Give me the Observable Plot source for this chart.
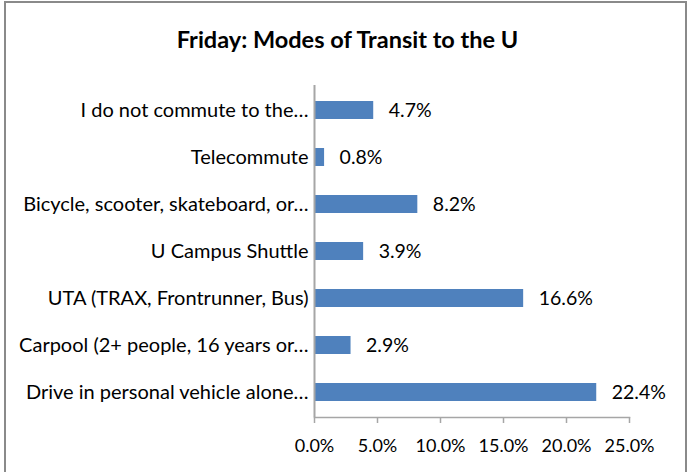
<!DOCTYPE html>
<html>
<head>
<meta charset="utf-8">
<script src="https://cdn.jsdelivr.net/npm/d3@7"></script>
<script src="https://cdn.jsdelivr.net/npm/@observablehq/plot@0.6"></script>
<style>
  html, body { margin: 0; padding: 0; background: #fff; }
  body { width: 695px; height: 472px; position: relative; overflow: hidden; font-family: Lato, "Open Sans", sans-serif; }
  #frame { position: absolute; left: 4px; top: 1px; height: 490px; border: 2px solid #8a8a8a; box-sizing: border-box; width: 683px; }
  #title { position: absolute; left: 0; top: 0; width: 695px; height: 62px; line-height: 78px; text-align: center; font-weight: bold; font-size: 23.5px; color: #000; }
  #chart { position: absolute; left: 0; top: 62px; }
</style>
</head>
<body>
<div id="frame"></div>
<div id="title">Friday: Modes of Transit to the U</div>
<div id="chart"></div>
<script>
const categories = [
  "I do not commute to the…",
  "Telecommute",
  "Bicycle, scooter, skateboard, or…",
  "U Campus Shuttle",
  "UTA (TRAX, Frontrunner, Bus)",
  "Carpool (2+ people, 16 years or…",
  "Drive in personal vehicle alone…"
];
const values = [4.7, 0.8, 8.2, 3.9, 16.6, 2.9, 22.4];
const xTicks = [0, 5, 10, 15, 20, 25];

const data = categories.map((c, i) => ({category: c, value: values[i]}));
const fmt = d => d.toFixed(1) + "%";
const axisColor = "#a6a6a6";

const chart = Plot.plot({
  width: 695,
  height: 410,
  marginLeft: 314,
  marginRight: 66,
  marginTop: 23,
  marginBottom: 55,
  style: {fontFamily: "Lato, 'Open Sans', sans-serif", fontSize: "18px", color: "#000", background: "transparent", overflow: "visible"},
  x: {domain: [0, 25], ticks: xTicks, tickFormat: fmt, label: null},
  y: {domain: categories, paddingInner: 0.62, paddingOuter: 0.31, label: null},
  marks: [
    Plot.barX(data, {x: "value", y: "category", fill: "#4f81bd"}),
    Plot.text(data, {x: "value", y: "category", text: d => fmt(d.value), dx: 15, textAnchor: "start", fill: "#000", fontSize: 19.5}),
    Plot.frame({anchor: "bottom", stroke: axisColor, strokeWidth: 1.5}),
    Plot.ruleX([0], {stroke: axisColor, strokeWidth: 2}),
    Plot.axisX({ticks: xTicks, tickFormat: fmt, tickSize: 6, tickPadding: 16, stroke: axisColor, strokeWidth: 1.5, fill: "#000", fontSize: 18, label: null}),
    Plot.axisY({tickSize: 0, tickPadding: 6, fill: "#000", fontSize: 20, label: null})
  ]
});
document.getElementById("chart").appendChild(chart);
</script>
</body>
</html>
